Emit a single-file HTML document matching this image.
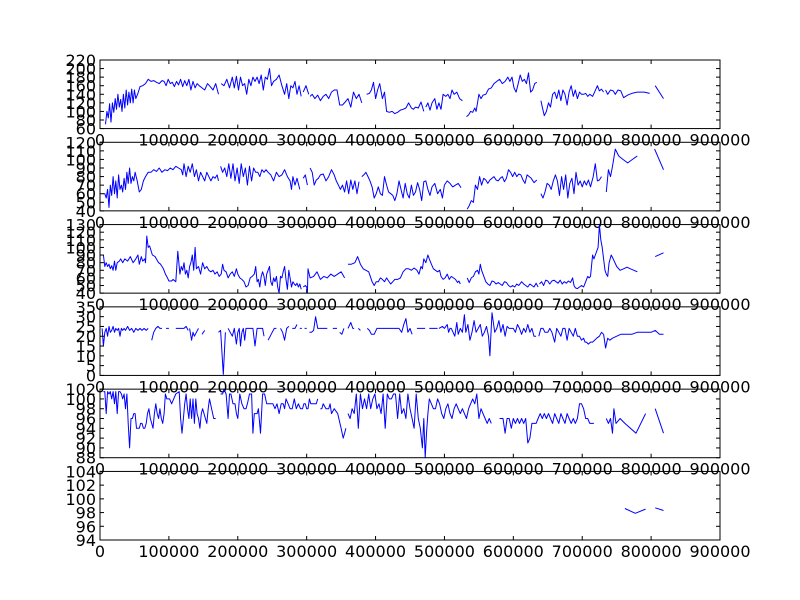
<!DOCTYPE html>
<html><head><meta charset="utf-8"><style>
html,body{margin:0;padding:0;background:#fff;}
svg{display:block;}
text{font-family:"DejaVu Sans","Liberation Sans",sans-serif;font-size:16px;fill:#000;}
</style></head><body>
<svg id="fig" width="800" height="600" viewBox="0 0 800 600" xmlns="http://www.w3.org/2000/svg"></svg>
<script>
// x values in thousands; null = gap in the line
const xTicks = [0,100000,200000,300000,400000,500000,600000,700000,800000,900000];
const yTicks1 = [60,80,100,120,140,160,180,200,220];
const yTicks2 = [40,50,60,70,80,90,100,110,120];
const yTicks3 = [40,50,60,70,80,90,100,110,120,130];
const yTicks4 = [0,5,10,15,20,25,30,35];
const yTicks5 = [88,90,92,94,96,98,100,102];
const yTicks6 = [94,96,98,100,102,104];

const series1 = [[8,70],[10,100],[12,85],[14,118],[16,75],[18,120],[20,98],[22,130],[24,105],[26,140],[28,110],[30,128],[32,100],[34,140],[36,108],[38,150],[40,115],[42,145],[44,120],[46,152],[48,120],[50,150],[52,130],[55,142],[58,158],[62,160],[66,165],[70,175],[74,170],[78,172],[82,168],[86,165],[90,172],[93,170],[96,160],[99,175],[102,165],[105,168],[108,158],[111,170],[114,162],[117,175],[120,158],[123,172],[126,160],[129,175],[132,150],[135,170],[138,155],[141,165],[144,160],[148,155],[152,150],[156,165],[160,158],[164,150],[168,165],[172,140],null,
[176,165],[180,160],[184,175],[188,155],[192,180],[195,155],[198,182],[201,150],[204,180],[207,160],[210,165],[213,140],[216,175],[219,160],[222,180],[225,170],[228,180],[231,165],[234,185],[237,150],[240,180],[243,175],[246,200],[249,160],[252,170],[256,175],[260,185],[264,160],[268,140],[271,165],[274,130],[277,160],[280,155],[283,170],[286,140],[289,160],[292,135],null,[295,145],[299,160],[303,140],null,
[305,135],[308,140],[312,130],[316,138],[320,125],[324,135],[328,140],[332,130],[336,145],[340,150],[344,150],[348,115],[352,115],[356,122],[360,130],[364,110],[368,145],[372,130],[376,140],[380,120],null,
[387,140],[391,142],[394,150],[397,168],[400,130],[403,150],[406,165],[410,130],[413,145],[416,100],[420,98],[424,100],[428,95],[432,98],[436,103],[440,105],[444,108],[448,120],[452,108],[455,105],[458,110],[462,108],[466,122],[470,100],null,
[473,110],[476,120],[479,103],[482,120],[486,130],[489,105],[492,120],[495,105],[498,140],[502,135],[505,140],[508,130],[511,150],[514,140],[518,145],[522,130],[526,125],null,
[532,88],[535,92],[538,100],[541,98],[544,108],[546,100],[550,140],[553,130],[556,138],[560,140],[564,152],[568,155],[572,165],[576,170],[580,175],[584,165],[588,170],[592,180],[595,170],[598,180],[601,155],[604,145],[607,165],[610,185],[613,170],[616,175],[619,165],[622,190],[625,145],[628,150],[631,165],[634,168],null,
[640,125],[642,110],[645,90],[648,100],[651,120],[654,110],[657,140],[660,145],[663,130],[666,150],[669,125],[672,150],[675,140],[678,115],[681,145],[684,160],[687,135],[690,150],[693,130],[696,145],[699,140],[702,140],[705,142],[708,135],[711,140],[715,135],[718,145],[722,160],[725,148],[728,152],[731,145],null,
[734,150],[737,140],[741,150],[745,148],[748,140],[752,150],[756,148],[760,132],[766,138],[772,142],[780,145],[790,145],[798,142],null,[806,160],[818,130]];

const series2 = [[5,60],[7,60],[9,55],[11,65],[13,44],[15,70],[17,58],[19,80],[21,60],[23,75],[25,55],[27,82],[29,65],[31,70],[33,62],[35,78],[37,65],[39,85],[41,72],[43,90],[45,72],[47,80],[49,75],[51,85],[54,75],[57,62],[60,65],[63,75],[66,80],[70,85],[74,85],[78,88],[82,86],[86,90],[90,85],[94,88],[98,87],[102,90],[106,88],[110,92],[114,90],[118,88],[120,82],[122,95],[125,80],[128,92],[131,85],[134,95],[137,80],[140,88],[143,75],[146,85],[149,80],[152,75],[155,85],[158,80],[161,75],[164,80],[167,78],[170,82],[172,75],null,
[175,92],[178,85],[181,90],[184,80],[187,95],[190,78],[193,95],[196,75],[199,90],[202,72],[205,95],[208,80],[211,90],[214,70],[217,92],[220,75],[223,90],[226,85],[229,85],[232,80],[235,88],[238,85],[241,88],[244,85],[248,82],[252,75],[256,85],[260,80],[264,82],[268,88],[272,80],[276,75],[278,65],[280,80],[283,70],[286,78],[290,65],null,[295,78],[298,82],[301,70],null,
[305,90],[308,85],[311,70],[314,76],[317,78],[320,82],[324,83],[328,75],[332,80],[336,88],[340,82],[343,75],[346,70],[349,65],[352,70],[355,62],[358,75],[361,60],[364,76],[367,65],[370,75],[373,60],[376,74],null,
[380,80],[383,82],[386,85],[389,80],[392,75],[395,68],[398,55],[401,60],[404,68],[407,60],[410,58],[413,80],[416,70],[419,62],[422,60],[425,58],[428,52],[431,60],[434,75],[437,65],[440,55],[443,72],[446,60],[449,55],[452,70],[455,58],[458,62],[461,73],[464,65],[467,52],[470,74],[473,75],[476,65],[479,58],[482,68],[486,72],[490,60],[494,65],[497,55],[500,70],[504,75],[508,72],[512,68],[516,70],[520,72],[524,67],null,
[533,42],[536,46],[539,52],[542,50],[545,70],[548,65],[551,80],[554,70],[557,78],[560,76],[563,72],[566,76],[569,78],[572,80],[575,76],[578,75],[581,78],[584,80],[587,74],[590,78],[593,88],[596,85],[599,80],[602,85],[605,80],[608,83],[611,82],[614,76],[617,72],[620,82],[623,80],[626,78],[630,73],[634,76],null,
[640,60],[643,55],[646,62],[649,72],[652,70],[655,65],[658,75],[661,82],[664,75],[667,58],[670,80],[673,65],[676,82],[679,55],[682,72],[685,78],[688,60],[691,85],[694,70],[697,75],[700,68],[703,75],[706,70],[709,76],[712,68],[716,80],[719,95],[722,75],[725,76],[728,80],null,
[735,62],[738,88],[741,80],[744,92],[748,112],[753,104],[759,100],[766,96],[773,100],[780,104],null,[805,112],[818,88]];

const series3 = [[5,90],[7,75],[9,80],[11,75],[13,78],[15,72],[17,76],[19,70],[21,82],[23,70],[25,80],[28,82],[30,85],[33,80],[36,85],[40,82],[44,88],[48,80],[52,85],[55,90],[57,78],[60,88],[62,82],[65,85],[66,80],[68,115],[70,100],[72,102],[76,90],[80,88],[85,80],[88,78],[92,72],[95,65],[98,60],[100,56],[104,56],[106,58],[110,55],[113,95],[116,65],[118,75],[120,70],[122,80],[124,65],[126,70],[128,60],[130,75],[132,80],[134,90],[136,70],[138,100],[140,72],[143,75],[146,65],[149,80],[152,72],[155,75],[158,70],[161,68],[164,70],[167,65],[170,68],[173,62],[176,65],[178,78],[180,70],[183,68],[186,60],[189,65],[192,68],[195,62],[198,72],[200,65],[203,60],[206,58],[209,55],[212,48],[215,50],[218,60],[221,62],[224,65],[226,75],[228,55],[230,58],[232,48],[234,62],[236,68],[238,62],[240,50],[242,65],[244,70],[246,75],[248,55],[250,50],[252,60],[254,55],[256,62],[258,48],[260,40],[262,62],[264,60],[266,68],[268,75],[270,58],[272,45],[274,70],[276,60],[278,48],[280,55],[282,52],[284,50],[286,53],[288,48],[290,52],[292,45],null,[295,48],[298,50],[300,48],[301,40],[302,72],[305,60],[310,62],[315,68],[320,58],[325,62],[330,60],[335,65],[340,62],[345,65],[350,68],[355,60],null,
[360,78],[365,78],[370,80],[374,88],[378,78],[382,72],[386,70],[390,68],[395,55],[398,50],[401,55],[404,55],[407,60],[410,58],[413,55],[416,60],[419,56],[422,52],[425,55],[428,58],[432,58],[436,60],[440,68],[444,72],[448,72],[452,70],[456,73],[460,70],[463,65],[466,75],[468,72],[470,85],[473,80],[476,90],[478,85],[481,78],[484,72],[487,70],[490,68],[493,70],[495,62],[498,58],[501,60],[504,65],[507,58],[510,62],[513,60],[516,58],[519,54],[521,56],[523,52],null,
[533,60],[536,54],[539,60],[542,62],[545,68],[548,70],[550,65],[552,78],[554,70],[556,65],[558,60],[560,55],[563,52],[566,50],[569,56],[572,55],[575,52],[578,54],[581,52],[584,50],[587,55],[590,54],[593,50],[596,48],[599,50],[602,48],[605,52],[608,50],[612,55],[615,52],[618,50],[621,48],[624,52],[627,50],[630,48],[633,53],[636,48],null,
[638,52],[641,55],[644,50],[647,57],[650,56],[653,52],[656,56],[659,57],[662,55],[665,53],[668,57],[671,52],[674,55],[677,53],[680,56],[683,54],[686,60],[688,50],[690,47],[693,46],[696,48],[699,50],[702,48],[705,55],[708,62],[710,60],[712,62],[715,90],[717,85],[719,90],[721,95],[723,100],[725,130],[727,110],[729,100],[731,85],[733,70],[735,65],[737,62],[739,80],[742,90],[745,85],[750,75],[755,70],[760,72],[765,74],[770,72],[775,70],[780,68],null,[806,88],[818,93]];

const series4 = [[3,24],[5,15],[7,22],[9,24],[11,20],[13,25],[15,22],[17,23],[19,25],[21,22],[23,24],[25,23],[27,24],[29,20],[31,24],[33,23],[35,24],[37,23],[40,25],[43,23],[46,24],[49,22],[52,24],[55,23],[58,24],[61,23],[64,24],[67,23],[70,24],null,[75,18],[78,22],[81,24],[84,25],[87,24],[90,24],null,[96,24],[100,24],null,[110,24],[114,24],[118,24],[122,24],[125,25],[128,23],null,[130,24],[133,18],[135,22],[137,20],[140,22],[143,24],null,[148,21],[152,23],null,[172,22],[175,23],[179,0.5],[182,22],null,[186,24],[189,22],[192,20],[195,24],[198,16],[200,22],[202,24],[204,15],[206,22],[208,24],[210,18],[212,24],[214,24],[218,24],[222,24],[225,15],[228,24],[232,24],[236,24],[238,20],null,[244,18],[247,20],[250,22],[253,24],[256,24],null,[262,24],[265,22],[268,18],[271,24],[274,25],null,[279,24],[283,24],[286,26],null,[290,24],[293,24],null,[297,24],[300,24],null,[304,22],[307,22],[310,23],[313,30],[316,24],[320,24],[325,24],[330,24],null,[338,24],[344,24],null,[348,22],[351,21],[354,24],null,[360,24],[364,27],[367,24],[369,24],null,[375,24],[378,23],null,[388,24],[391,23],[394,21],[398,21],[402,24],[406,24],[412,24],[418,24],[424,24],[430,24],[434,24],[438,22],[441,26],[444,29],[447,22],[450,24],[453,21],null,[460,24],[466,24],[472,24],null,[478,24],[484,24],[490,24],null,[492,24],[497,25],[500,24],[504,26],[506,22],[508,24],[510,24],[515,20],[518,27],[520,21],[523,24],[526,22],[529,31],[531,22],[534,26],[537,18],[540,22],[543,28],[546,22],[549,24],[552,26],[555,20],[558,22],[561,25],[564,20],[566,10],[569,32],[573,22],[576,24],[579,28],[582,22],[585,26],[588,20],[591,25],[594,24],[598,24],[600,24],[603,22],[606,26],[609,24],[612,21],[615,24],[618,22],[621,26],[624,22],[627,24],[630,20],[633,20],null,[637,20],[640,24],[643,24],[646,22],[650,22],[653,24],[656,22],[660,17],[663,24],[666,22],[669,20],[672,24],[675,24],[678,18],[681,24],[684,22],[687,20],[690,24],[693,20],[696,20],[699,18],[702,19],[704,17],[706,17],[709,16],[712,17],[715,17],[718,18],[721,19],[725,20],[728,22],[731,21],[734,14],[737,19],[740,18],[744,19],[750,20],[756,21],[764,21],[772,21],[780,22],[790,22],[800,22],[806,23],[812,21],[818,21]];

const series5 = [[5,101.5],[7,101.5],[9,97],[11,101.5],[13,101],[15,101.5],[17,100],[19,101.5],[21,99],[23,101.5],[25,97],[27,101.5],[29,101.5],[31,101],[33,100],[35,101],[37,98],[39,101],[41,95],[43,90],[45,96],[47,96],[49,97],[51,97],[53,94],[55,94],[57,94],[59,95],[61,95],[63,94],[65,94],[67,95],[69,97],[71,98],[73,96],[75,95],[77,94],[79,97],[81,99],[83,97],[85,96],[87,98],[89,96],[91,95],[93,97],[95,101],[97,100],[99,100],[101,100],[104,99],[107,100],[110,101],[115,101.5],[117,96],[119,93],[121,96],[123,99],[125,101],[127,98],[129,96],[131,100],[133,96],[135,100],[137,95],[139,100],[141,97],[143,96],[145,94],[147,97],[149,98],[151,97],[153,96],[155,95],[157,98],[159,100],[162,98],[165,96],[168,96],null,[175,101],[178,101],[180,102],[183,101],[186,96],[188,101],[190,101],[193,99],[196,99],[198,97],[200,96],[203,101],[206,99],[209,98],[212,98],[214,99],[217,101],[220,101],[222,93],[224,97],[226,97],[228,97],[230,98],[233,93],[236,101],[239,101],[242,99],[245,99],[248,99],[251,99],[254,98],[257,99],[260,97],[263,99],[266,99],[268,98],[270,100],[273,99],[276,98],[279,98],[282,100],[285,98],[288,99],[291,98],[294,98],[296,99],[298,99],[300,98],[302,98],[304,100],[306,99],[310,99],[314,99],[316,100],null,[320,98],[322,98],[324,99],[328,98],[330,98],[332,98],[334,99],[336,97],[340,98],[345,97],[350,94],[353,92],[355,93],[357,94],null,[360,97],[363,96],[366,98],[369,97],[372,101],[375,94],[378,101],[381,98],[384,100],[387,98],[390,101],[393,98],[396,100],[399,101],[402,98],[405,99],[408,97],[411,101],[414,94],[417,101],[420,100],[423,100],[426,101],[429,101],[432,96],[435,101],[438,97],[441,98],[444,96],[447,101],[450,98],[453,96],[456,94],[459,101],[462,96],[465,94],[468,90],[470,96],[472,88],[474,93],[476,97],[478,100],[481,99],[484,98],[487,98],[490,100],[493,99],[496,97],[499,96],[502,98],[505,99],[508,97],[511,96],[514,98],[517,99],[520,98],[523,97],[526,98],[529,97],[532,96],[535,98],[538,99],[541,100],[544,99],[547,101],[550,96],[553,98],[556,97],[559,96],[562,95],[565,96],[568,95],null,[580,96],[585,96],[588,93],[591,96],[594,96],[597,94],[600,96],[603,95],[606,96],[609,95],[612,96],[615,95],[618,96],[621,91],[624,92],[627,95],[630,95],[633,95],[636,96],[639,97],[642,96],[645,97],[648,96],[651,97],[654,96],[657,95],[660,97],[663,96],[666,95],[669,97],[672,96],[675,95],[678,97],[681,96],[684,95],[687,96],[690,95],[693,96],[696,99],[699,99],[702,98],[705,96],[708,96],[711,95],[714,95],[717,95],null,[735,96],[738,95],[741,96],[744,93],[746,98],[749,95],[755,96],[762,95],[778,93],[792,97],null,[806,98],[818,93]];

const series6 = [[762,98.6],[777,97.9],[792,98.5],null,[806,98.7],[818,98.3]];

const panels = [
  {name:'panel-1', ticks:yTicks1, data:series1},
  {name:'panel-2', ticks:yTicks2, data:series2},
  {name:'panel-3', ticks:yTicks3, data:series3},
  {name:'panel-4', ticks:yTicks4, data:series4},
  {name:'panel-5', ticks:yTicks5, data:series5},
  {name:'panel-6', ticks:yTicks6, data:series6}
];

const NS = 'http://www.w3.org/2000/svg';
const svg = document.getElementById('fig');
const L = 100, R = 720, TOP = 60, H = 480 / 7 * 1, STEP = H * 1.2;
function el(tag, attrs, parent) {
  const e = document.createElementNS(NS, tag);
  for (const k in attrs) e.setAttribute(k, attrs[k]);
  parent.appendChild(e);
  return e;
}
function xScale(v) { return L + (v - 0) / 900000 * (R - L); }

panels.forEach((p, i) => {
  const top = TOP + i * STEP, bot = top + H;
  const ymin = p.ticks[0], ymax = p.ticks[p.ticks.length - 1];
  const yScale = v => bot - (v - ymin) / (ymax - ymin) * H;
  const g = el('g', {}, svg);
  
  

  // series line
  let d = '', pen = false;
  p.data.forEach(pt => {
    if (pt === null) { pen = false; return; }
    const px = xScale(pt[0] * 1000), py = yScale(pt[1]);
    d += (pen ? 'L' : 'M') + px.toFixed(1) + ' ' + py.toFixed(1);
    pen = true;
  });
  const line = el('path', {d: d, fill: 'none', stroke: '#0000ff', 'stroke-width': 1, 'stroke-linejoin': 'round'}, g);
  
  

  // frame
  const frame = el('rect', {x: L, y: top, width: R - L, height: H, fill: 'none', stroke: '#000', 'stroke-width': 1}, g);
  
  

  // y ticks
  p.ticks.forEach(t => {
    const y = yScale(t);
    el('line', {x1: L, x2: L + 4, y1: y, y2: y, stroke: '#000'}, g);
    el('line', {x1: R, x2: R - 4, y1: y, y2: y, stroke: '#000'}, g);
    const tx = el('text', {x: L - 4, y: y + 6, 'text-anchor': 'end'}, g);
    tx.textContent = t;
    
    
  });
  // x ticks
  xTicks.forEach(t => {
    const x = xScale(t);
    el('line', {x1: x, x2: x, y1: bot, y2: bot - 4, stroke: '#000'}, g);
    el('line', {x1: x, x2: x, y1: top, y2: top + 4, stroke: '#000'}, g);
    const tx = el('text', {x: x, y: bot + 17, 'text-anchor': 'middle'}, g);
    tx.textContent = t;
    
    
  });
});
</script>
</body></html>
